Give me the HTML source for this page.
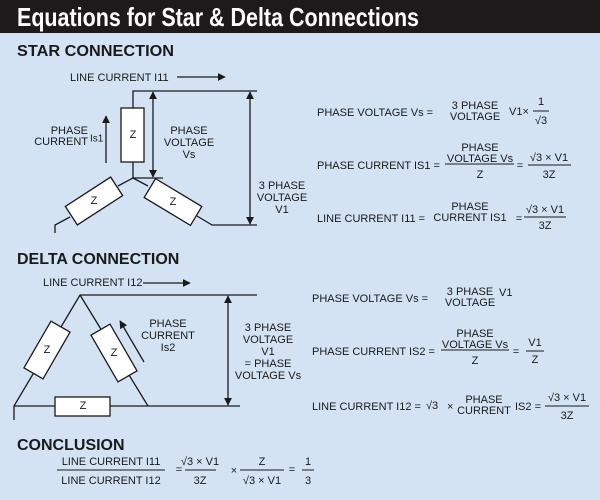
<!DOCTYPE html>
<html><head><meta charset="utf-8"><style>
body{margin:0;width:600px;height:500px;overflow:hidden;background:#d3e3f4;}
svg{display:block;font-family:"Liberation Sans",sans-serif;}
text{fill:#1a1a1a;}
</style></head><body>
<svg width="600" height="500" viewBox="0 0 600 500" xmlns="http://www.w3.org/2000/svg">
<defs>
<marker id="ah" viewBox="0 0 10 10" refX="9" refY="5" markerWidth="8" markerHeight="8" markerUnits="userSpaceOnUse" orient="auto-start-reverse"><path d="M0,0 L10,5 L0,10 z" fill="#1a1a1a"/></marker>
</defs>
<rect x="0" y="0" width="600" height="500" fill="#d3e3f4"/>
<rect x="0" y="0" width="600" height="33" fill="#1c1a1a"/>
<text x="17" y="26" font-family="'Liberation Sans Narrow','Liberation Sans',sans-serif" font-weight="bold" font-size="26" style="fill:#fff" textLength="402" lengthAdjust="spacingAndGlyphs">Equations for Star &amp; Delta Connections</text>

<g font-size="16" font-weight="bold">
<text x="17" y="56" textLength="157" lengthAdjust="spacingAndGlyphs">STAR CONNECTION</text>
<text x="17" y="264">DELTA CONNECTION</text>
<text x="17" y="450">CONCLUSION</text>
</g>

<g stroke="#1a1a1a" stroke-width="1.3" fill="none">
<!-- STAR -->
<line x1="177" y1="77" x2="225" y2="77" marker-end="url(#ah)"/>
<polyline points="257,91 133,91 133,108"/>
<line x1="133" y1="162" x2="133" y2="178"/>
<line x1="133" y1="178" x2="163" y2="178"/>
<line x1="133" y1="178" x2="118" y2="186"/>
<line x1="133" y1="178" x2="148" y2="186"/>
<line x1="153" y1="92" x2="153" y2="177" marker-start="url(#ah)" marker-end="url(#ah)"/>
<line x1="250" y1="92" x2="250" y2="224" marker-start="url(#ah)" marker-end="url(#ah)"/>
<polyline points="70,217 55,225 55,233"/>
<polyline points="197,216 212,225 257,225"/>
<line x1="106" y1="163" x2="106" y2="116" marker-end="url(#ah)"/>
<!-- DELTA -->
<line x1="143" y1="283" x2="190" y2="283" marker-end="url(#ah)"/>
<polyline points="257,295 80,295 14,406 14,420"/>
<polyline points="80,295 148,406"/>
<line x1="14" y1="406" x2="240" y2="406"/>
<line x1="228" y1="296" x2="228" y2="405" marker-start="url(#ah)" marker-end="url(#ah)"/>
<line x1="144" y1="362" x2="120" y2="321" marker-end="url(#ah)"/>
</g>

<g stroke="#1a1a1a" stroke-width="1.3" fill="#fff">
<rect x="121" y="108" width="23" height="54"/>
<rect x="-27" y="-11" width="54" height="22" transform="translate(94,201) rotate(-33)"/>
<rect x="-27" y="-11" width="54" height="22" transform="translate(173,202) rotate(31)"/>
<rect x="-27" y="-11" width="54" height="22" transform="translate(47,350) rotate(-60)"/>
<rect x="-27" y="-11" width="54" height="22" transform="translate(114,353) rotate(60)"/>
<rect x="55" y="397" width="55" height="19"/>
</g>

<g font-size="11" text-anchor="middle" dominant-baseline="central">
<text x="133" y="135">Z</text>
<text x="94" y="201">Z</text>
<text x="173" y="202">Z</text>
<text x="47" y="350">Z</text>
<text x="114" y="353">Z</text>
<text x="83" y="406">Z</text>
</g>

<g font-size="11" dominant-baseline="central">
<text x="70" y="78">LINE CURRENT I11</text>
<text x="88" y="131" text-anchor="end">PHASE</text>
<text x="88" y="142" text-anchor="end">CURRENT</text>
<text x="90" y="139" font-size="10">Is1</text>
<g text-anchor="middle">
<text x="189" y="131">PHASE</text><text x="189" y="143">VOLTAGE</text><text x="189" y="155">Vs</text>
<text x="282" y="186">3 PHASE</text><text x="282" y="198">VOLTAGE</text><text x="282" y="210">V1</text>
</g>
<text x="43" y="283">LINE CURRENT I12</text>
<g text-anchor="middle">
<text x="168" y="324">PHASE</text><text x="168" y="336">CURRENT</text><text x="168" y="348">Is2</text>
<text x="268" y="328">3 PHASE</text><text x="268" y="340">VOLTAGE</text><text x="268" y="352">V1</text>
<text x="268" y="364">= PHASE</text><text x="268" y="376">VOLTAGE Vs</text>
</g>

<!-- star equations -->
<text x="317" y="113">PHASE VOLTAGE Vs =</text>
<g text-anchor="middle"><text x="475" y="106">3 PHASE</text><text x="475" y="117">VOLTAGE</text>
<text x="541" y="102">1</text><text x="541" y="121">√3</text></g>
<text x="509" y="112">V1×</text>
<line x1="533" y1="111" x2="549" y2="111" stroke="#1a1a1a"/>

<text x="317" y="166">PHASE CURRENT IS1 =</text>
<g text-anchor="middle"><text x="480" y="148">PHASE</text><text x="480" y="159">VOLTAGE Vs</text><text x="480" y="175">Z</text>
<text x="520" y="166">=</text>
<text x="549" y="158">√3  × V1</text><text x="549" y="175">3Z</text></g>
<line x1="445" y1="164" x2="514" y2="164" stroke="#1a1a1a"/>
<line x1="528" y1="165" x2="571" y2="165" stroke="#1a1a1a"/>

<text x="317" y="219">LINE CURRENT I11 =</text>
<g text-anchor="middle"><text x="470" y="207">PHASE</text><text x="470" y="218">CURRENT IS1</text>
<text x="519" y="219">=</text>
<text x="545" y="210">√3  × V1</text><text x="545" y="226">3Z</text></g>
<line x1="524" y1="217" x2="566" y2="217" stroke="#1a1a1a"/>

<!-- delta equations -->
<text x="312" y="299">PHASE VOLTAGE Vs =</text>
<g text-anchor="middle"><text x="470" y="292">3 PHASE</text><text x="470" y="303">VOLTAGE</text></g>
<text x="499" y="293">V1</text>

<text x="312" y="352">PHASE CURRENT IS2 =</text>
<g text-anchor="middle"><text x="475" y="334">PHASE</text><text x="475" y="345">VOLTAGE Vs</text><text x="475" y="361">Z</text>
<text x="516" y="352">=</text><text x="535" y="343">V1</text><text x="535" y="360">Z</text></g>
<line x1="441" y1="350" x2="509" y2="350" stroke="#1a1a1a"/>
<line x1="526" y1="351" x2="544" y2="351" stroke="#1a1a1a"/>

<text x="312" y="407">LINE CURRENT I12 =</text>
<text x="426" y="406">√3</text><text x="447" y="407">×</text>
<g text-anchor="middle"><text x="484" y="400">PHASE</text><text x="484" y="411">CURRENT</text>
<text x="567" y="398">√3  × V1</text><text x="567" y="416">3Z</text></g>
<text x="515" y="407">IS2 =</text>
<line x1="545" y1="406" x2="589" y2="406" stroke="#1a1a1a"/>

<!-- conclusion -->
<g text-anchor="middle">
<text x="111" y="462">LINE CURRENT I11</text><text x="111" y="481">LINE CURRENT I12</text>
<text x="179" y="470">=</text>
<text x="200" y="462">√3  × V1</text><text x="200" y="481">3Z</text>
<text x="234" y="471">×</text>
<text x="262" y="462">Z</text><text x="262" y="481">√3  × V1</text>
<text x="292" y="470">=</text>
<text x="308" y="462">1</text><text x="308" y="481">3</text>
</g>
<line x1="57" y1="470" x2="165" y2="470" stroke="#1a1a1a"/>
<line x1="185" y1="470" x2="216" y2="470" stroke="#1a1a1a"/>
<line x1="240" y1="470" x2="284" y2="470" stroke="#1a1a1a"/>
<line x1="302" y1="470" x2="314" y2="470" stroke="#1a1a1a"/>
</g>
</svg>
</body></html>
